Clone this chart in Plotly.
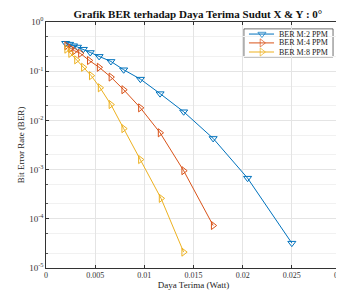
import plotly.graph_objects as go

# Data
x_m2 = [0.0020, 0.0024, 0.0028, 0.0032, 0.0038, 0.0045, 0.0054, 0.0066, 0.0079, 0.0096, 0.0116, 0.0140, 0.0170, 0.0205, 0.0250]
ber_m2 = [0.37, 0.355, 0.33, 0.31, 0.28, 0.24, 0.20, 0.158, 0.107, 0.069, 0.035, 0.015, 0.0043, 6.7e-4, 3.2e-5]

x_m4 = [0.0021, 0.0025, 0.0029, 0.0035, 0.0044, 0.0054, 0.0066, 0.0079, 0.0096, 0.0116, 0.0140, 0.0170]
ber_m4 = [0.33, 0.29, 0.26, 0.23, 0.165, 0.12, 0.076, 0.042, 0.018, 0.0056, 9.5e-4, 7.3e-5]

x_m8 = [0.0021, 0.0025, 0.0031, 0.0038, 0.0046, 0.0055, 0.0066, 0.0079, 0.0096, 0.0117, 0.0140]
ber_m8 = [0.28, 0.23, 0.17, 0.12, 0.081, 0.046, 0.021, 0.0068, 0.0016, 2.6e-4, 2.1e-5]

series_names = ["BER M:2 PPM", "BER M:4 PPM", "BER M:8 PPM"]
x_tick_vals = [0, 0.005, 0.01, 0.015, 0.02, 0.025, 0.03]
x_tick_text = ["0", "0.005", "0.01", "0.015", "0.02", "0.025", "0.03"]
y_tick_vals = [1e-5, 1e-4, 1e-3, 1e-2, 1e-1, 1]
y_tick_text = ["10<sup>-5</sup>", "10<sup>-4</sup>", "10<sup>-3</sup>", "10<sup>-2</sup>", "10<sup>-1</sup>", "10<sup>0</sup>"]

colors = ["#0072BD", "#D95319", "#EDB120"]
symbols = ["triangle-down-open", "triangle-right-open", "triangle-right-open"]

serif = "Liberation Serif, Times New Roman, serif"

fig = go.Figure()
for xs, ys, name, c, s in zip([x_m2, x_m4, x_m8], [ber_m2, ber_m4, ber_m8], series_names, colors, symbols):
    fig.add_trace(go.Scatter(
        x=xs, y=ys, name=name, mode="lines+markers", showlegend=False,
        line=dict(color=c, width=1),
        marker=dict(symbol=s, size=7, color=c, line=dict(color=c, width=1)),
    ))

# Compact legend drawn in paper coordinates (overlay axis with range 0..1)
leg_x0, leg_x1, leg_y0, leg_y1 = 0.671, 0.973, 0.858, 0.972
row_y = [0.951, 0.915, 0.878]
fig.add_shape(type="rect", xref="paper", yref="paper", x0=leg_x0, x1=leg_x1, y0=leg_y0, y1=leg_y1,
              line=dict(color="#333", width=0.7), fillcolor="white", layer="between")
for yv, name, c, s in zip(row_y, series_names, colors, symbols):
    fig.add_trace(go.Scatter(
        x=[0.688, 0.732, 0.773], y=[yv, yv, yv], xaxis="x2", yaxis="y2", showlegend=False,
        mode="lines+markers", line=dict(color=c, width=1), hoverinfo="skip",
        marker=dict(symbol=s, size=[0, 7, 0], color=c, line=dict(color=c, width=1)),
    ))
    fig.add_annotation(x=0.784, y=yv, xref="paper", yref="paper", text=name, showarrow=False,
                       xanchor="left", yanchor="middle", font=dict(family=serif, size=8, color="#222"))

# The page adds an 8px body margin, so margins are offset by 8px
fig.update_layout(
    width=344, height=293,
    margin=dict(l=38, r=11, t=14, b=33),
    paper_bgcolor="white", plot_bgcolor="white",
    font=dict(family=serif, size=8, color="#333"),
    title=dict(text="<b>Grafik BER terhadap Daya Terima Sudut X &amp; Y : 0°</b>",
               x=0.552, xanchor="center", y=0.98, yanchor="middle",
               font=dict(family=serif, size=11, color="#111")),
    showlegend=False,
    xaxis2=dict(overlaying="x", range=[0, 1], visible=False, fixedrange=True),
    yaxis2=dict(overlaying="y", range=[0, 1], visible=False, fixedrange=True),
)
fig.update_layout(xaxis=dict(
    range=[0, 0.03], tickvals=x_tick_vals, ticktext=x_tick_text, automargin=False,
    showgrid=True, gridcolor="#e4e4e4", gridwidth=0.6,
    showline=True, linecolor="#333", linewidth=0.6, mirror="ticks",
    ticks="inside", ticklen=3, tickcolor="#333", zeroline=False,
    tickfont=dict(family=serif, size=8, color="#333"),
    title=dict(text="Daya Terima (Watt)", font=dict(family=serif, size=9, color="#222"), standoff=1),
))
fig.update_layout(yaxis=dict(
    type="log", range=[-5, 0], tickvals=y_tick_vals, ticktext=y_tick_text, automargin=False,
    showgrid=True, gridcolor="#e4e4e4", gridwidth=0.6,
    minor=dict(showgrid=True, gridcolor="#f1f1f1", gridwidth=0.5, ticks="inside", ticklen=2, tickcolor="#555"),
    showline=True, linecolor="#333", linewidth=0.6, mirror="ticks",
    ticks="inside", ticklen=3, tickcolor="#333", zeroline=False,
    tickfont=dict(family=serif, size=9, color="#333"),
    title=dict(text="Bit Error Rate (BER)", font=dict(family=serif, size=9, color="#222"), standoff=3),
))

fig.write_html("out.html")
